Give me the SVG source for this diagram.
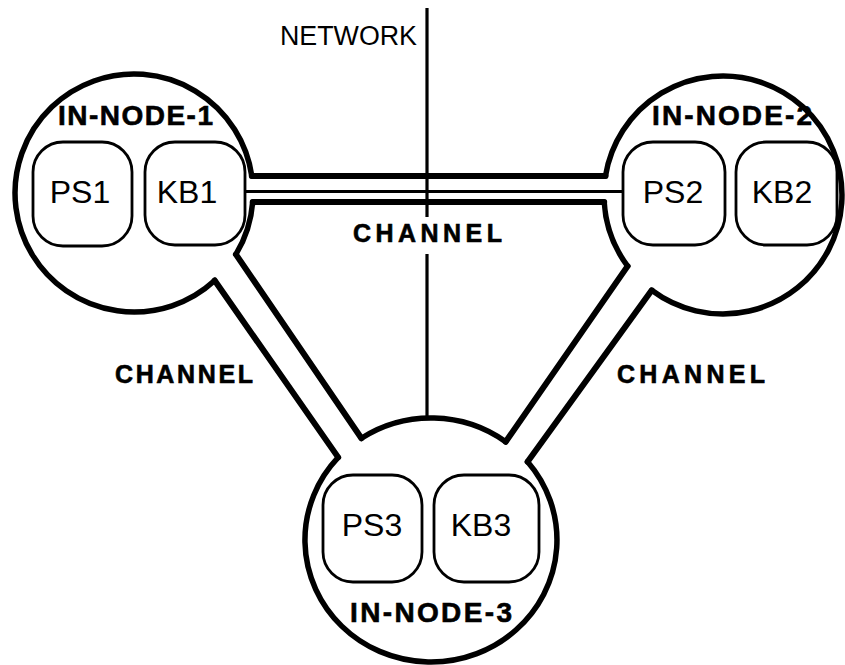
<svg xmlns="http://www.w3.org/2000/svg" width="845" height="665" viewBox="0 0 845 665">
<style>
.ring{fill:none;stroke:#000;stroke-width:5.5;stroke-linecap:round}
.box{fill:none;stroke:#000;stroke-width:2.8}
.ch{fill:none;stroke:#000;stroke-width:6;stroke-linecap:round}
.thin{fill:none;stroke:#000;stroke-width:3}
.net{fill:none;stroke:#000;stroke-width:3.2}
.lbl{font-family:"Liberation Sans",Arial,sans-serif;font-size:32px;fill:#000;text-anchor:middle}
.node{font-family:"Liberation Sans",Arial,sans-serif;font-size:28px;font-weight:bold;fill:#000;stroke:#000;stroke-width:0.6}
.chl{font-family:"Liberation Sans",Arial,sans-serif;font-size:25px;font-weight:bold;fill:#000;stroke:#000;stroke-width:0.6}
.netl{font-family:"Liberation Sans",Arial,sans-serif;font-size:27px;fill:#000}
</style>
<rect width="845" height="665" fill="#fff"/>
<g id="connectors">
  <g id="channel-1-2">
    <line class="ch" x1="251.8" y1="176" x2="605.5" y2="176"/>
    <line class="ch" x1="252.7" y1="202" x2="604.2" y2="202"/>
    <line class="thin" x1="245" y1="191.5" x2="623" y2="191.5"/>
  </g>
  <g id="channel-1-3">
    <line class="ch" x1="235.9" y1="254.4" x2="361.4" y2="438.3"/>
    <line class="ch" x1="214.7" y1="280.5" x2="338.2" y2="457.4"/>
  </g>
  <g id="channel-2-3">
    <line class="ch" x1="627.6" y1="266.1" x2="505.7" y2="441.8"/>
    <line class="ch" x1="651.7" y1="290.3" x2="527.6" y2="461.7"/>
  </g>
  <g id="network">
    <line class="net" x1="427" y1="8" x2="427" y2="217"/>
    <line class="net" x1="427" y1="254" x2="427" y2="419"/>
  </g>
</g>
<g id="in-node-1">
  <path class="ring" d="M 252.7 202 A 119 119 0 0 1 235.9 254.4 M 214.7 280.5 A 119 119 0 1 1 251.8 176"/>
  <text class="node" x="58" y="125" textLength="155" lengthAdjust="spacing">IN-NODE-1</text>
  <g id="ps1"><rect class="box" x="33" y="142" width="99" height="104" rx="30"/><text class="lbl" x="80" y="202.5">PS1</text></g>
  <g id="kb1"><rect class="box" x="145" y="142" width="100" height="103" rx="30"/><text class="lbl" x="187" y="202.5">KB1</text></g>
</g>
<g id="in-node-2">
  <path class="ring" d="M 627.6 266.1 A 119 119 0 0 1 604.2 202 M 605.5 176 A 119 119 0 1 1 651.7 290.3"/>
  <text class="node" x="652" y="125" textLength="160" lengthAdjust="spacing">IN-NODE-2</text>
  <g id="ps2"><rect class="box" x="623" y="142" width="102" height="103" rx="30"/><text class="lbl" x="673" y="202.5">PS2</text></g>
  <g id="kb2"><rect class="box" x="736" y="142" width="101" height="103" rx="30"/><text class="lbl" x="782" y="202.5">KB2</text></g>
</g>
<g id="in-node-3">
  <path class="ring" d="M 361.4 438.3 A 126 122 0 0 1 505.7 441.8 M 527.6 461.7 A 126 122 0 1 1 338.2 457.4"/>
  <text class="node" x="350" y="622" textLength="162" lengthAdjust="spacing">IN-NODE-3</text>
  <g id="ps3"><rect class="box" x="323" y="475" width="99" height="107" rx="30"/><text class="lbl" x="372" y="535.5">PS3</text></g>
  <g id="kb3"><rect class="box" x="434" y="475" width="105" height="107" rx="30"/><text class="lbl" x="481" y="535.5">KB3</text></g>
</g>
<g id="labels">
  <text class="netl" x="280" y="45" textLength="137" lengthAdjust="spacingAndGlyphs">NETWORK</text>
  <text class="chl" x="353" y="242" textLength="149" lengthAdjust="spacing">CHANNEL</text>
  <text class="chl" x="115" y="383" textLength="138" lengthAdjust="spacing">CHANNEL</text>
  <text class="chl" x="617" y="383" textLength="148" lengthAdjust="spacing">CHANNEL</text>
</g>
</svg>
